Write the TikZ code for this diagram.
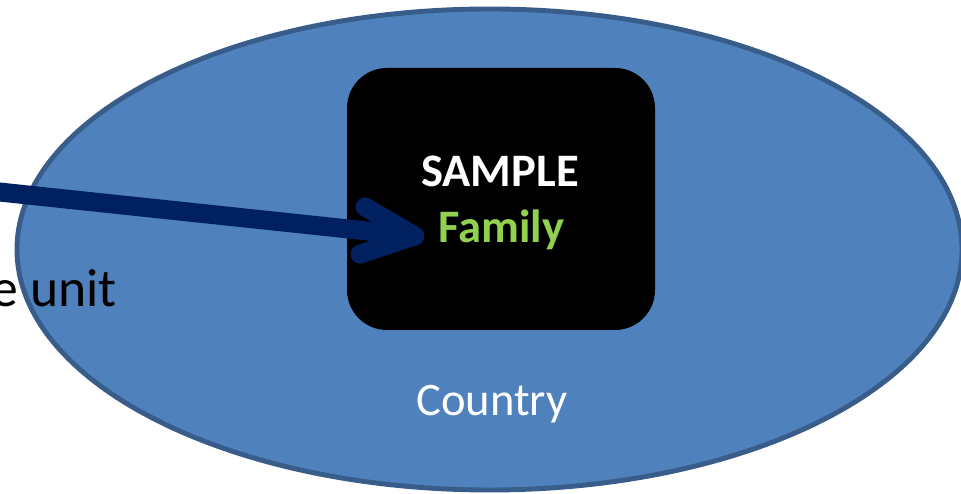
\documentclass[tikz,border=0pt]{standalone}
\usepackage{fontspec}
\setmainfont{Carlito}
\usepackage{tikz}
\usetikzlibrary{calc}
\usetikzlibrary{arrows.meta}
\definecolor{regionfill}{HTML}{4F81BD}
\definecolor{regionline}{HTML}{385D8A}
\definecolor{navy}{HTML}{002060}
\definecolor{leafgreen}{HTML}{92D050}
\tikzset{
   region/.style={draw=regionline, fill=regionfill, line width=2.8pt},
   unitbox/.style={fill=black, rounded corners=0.8cm,
      minimum width=6.16cm, minimum height=5.24cm, inner sep=0pt},
   label/.style={inner sep=0pt, font=\fontsize{26.5}{32}\selectfont},
   pointer/.style={draw=navy, line width=0.38cm,
      -{Straight Barb[round, length=1.05cm, width=0.95cm]}},
    }

\begin{document}
\begin{tikzpicture}[scale=1]
       \useasboundingbox (0,0) rectangle (19.22,9.88);
       \draw[region] (9.79,4.89) ellipse (9.45cm and 4.81cm);
       \node[unitbox] (box) at (10.02,5.90) {};
       \node[label, anchor=base, white, font=\fontsize{26.5}{32}\selectfont\bfseries] (sample) at (10.0,6.14) {SAMPLE};
       \node[label, anchor=base, leafgreen, font=\fontsize{26.5}{32}\selectfont\bfseries] (family) at (10.03,5.02) {Family};
       \node[label, anchor=base, white] (country) at (9.84,1.56) {Country};
       \node[label, anchor=base west, font=\fontsize{30.5}{36}\selectfont] (unit) at (-0.18,3.74) {e unit};
       \coordinate (start) at (-0.2,6.06);
       \draw[pointer] (start) -- ($(family.base west)+(-0.28,0.12)$);
   \end{tikzpicture}
\end{document}
